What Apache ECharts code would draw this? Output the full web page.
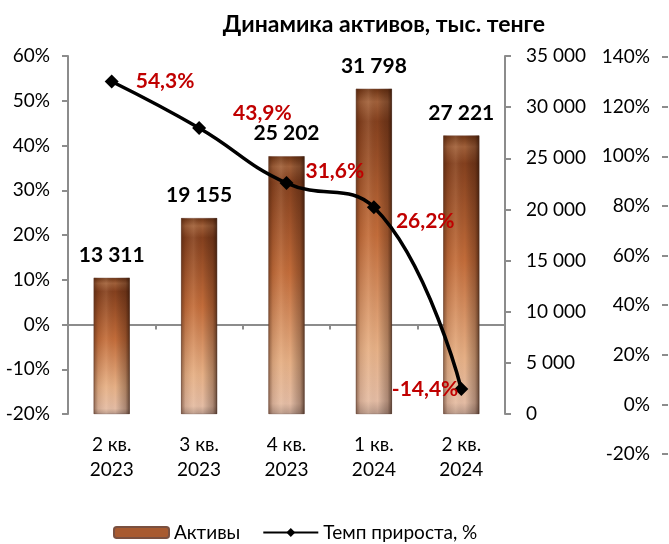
<!DOCTYPE html>
<html>
<head>
<meta charset="utf-8">
<title>Динамика активов</title>
<script src="https://cdn.jsdelivr.net/npm/echarts@6/dist/echarts.min.js"></script>
<style>
  html, body { margin: 0; padding: 0; background: #fff; }
  #main { width: 669px; height: 544px; }
</style>
</head>
<body>
<div id="main"></div>
<script>
// данные
var categories = ['2 кв.\n2023', '3 кв.\n2023', '4 кв.\n2023', '1 кв.\n2024', '2 кв.\n2024'];
var assets = [13311, 19155, 25202, 31798, 27221];
var growth = [54.3, 43.9, 31.6, 26.2, -14.4];

// подписи темпа прироста: где стоит подпись относительно точки
var growthLabelPos = [
  { position: 'right', offset: [12, 0] },
  { position: 'right', offset: [22, -15] },
  { position: 'right', offset: [7, -12] },
  { position: 'right', offset: [10, 14] },
  { position: 'left', offset: [9, 0] }
];

var FONT = 'Lato, "Noto Sans", sans-serif';
var AXIS_GRAY = '#8c8c8c';

function spaced(v) {
  return String(v).replace(/\B(?=(\d{3})+(?!\d))/g, ' ');
}
function pct(v) {
  return v.toFixed(1).replace('.', ',') + '%';
}

var barFill = new echarts.graphic.LinearGradient(0, 0, 0, 1, [
  { offset: 0, color: '#6e3414' },
  { offset: 0.04, color: '#a0603a' },
  { offset: 0.1, color: '#84401e' },
  { offset: 0.45, color: '#c26c3a' },
  { offset: 0.8, color: '#e6b086' },
  { offset: 0.96, color: '#e4bca4' },
  { offset: 1, color: '#b89888' }
]);
var barShade = new echarts.graphic.LinearGradient(0, 0, 1, 0, [
  { offset: 0, color: 'rgba(60,25,8,0.5)' },
  { offset: 0.12, color: 'rgba(60,25,8,0.12)' },
  { offset: 0.35, color: 'rgba(255,230,200,0.1)' },
  { offset: 0.6, color: 'rgba(0,0,0,0)' },
  { offset: 0.88, color: 'rgba(40,15,5,0.3)' },
  { offset: 1, color: 'rgba(30,10,0,0.65)' }
]);

var myChart = echarts.init(document.getElementById('main'));

var growthData = growth.map(function (v, i) {
  return {
    value: v,
    label: growthLabelPos[i]
  };
});

myChart.setOption({
  animation: false,
  textStyle: { fontFamily: FONT },
  title: {
    text: 'Динамика активов, тыс. тенге',
    left: 379,
    textAlign: 'center',
    top: 8,
    textStyle: { fontSize: 23, fontWeight: 'bold', color: '#000', fontFamily: FONT }
  },
  legend: {
    left: 108,
    top: 518,
    itemWidth: 55,
    itemHeight: 11,
    itemGap: 22,
    textStyle: { fontSize: 19, color: '#000', fontFamily: FONT },
    data: [
      { name: 'Активы', itemStyle: { color: '#a85a30' } },
      { name: 'Темп прироста, %' }
    ]
  },
  grid: [
    { left: 68, right: 164, top: 56, bottom: 130 },
    { left: 662, width: 6, top: 57, bottom: 90 }
  ],
  xAxis: [
    {
      type: 'category',
      data: categories,
      gridIndex: 0,
      axisLine: { show: false },
      axisTick: { show: false },
      axisLabel: {
        margin: 18,
        fontSize: 19,
        lineHeight: 25,
        color: '#000',
        fontFamily: FONT
      }
    },
    {
      type: 'category',
      data: categories,
      gridIndex: 0,
      position: 'bottom',
      axisLine: { show: true, onZero: true, onZeroAxisIndex: 0, lineStyle: { color: AXIS_GRAY, width: 2 } },
      axisTick: { show: true, length: 5, lineStyle: { color: AXIS_GRAY, width: 2 } },
      axisLabel: { show: false }
    },
    {
      type: 'category',
      data: categories,
      gridIndex: 1,
      show: false
    }
  ],
  yAxis: [
    {
      type: 'value',
      gridIndex: 0,
      position: 'left',
      min: -20,
      max: 60,
      interval: 10,
      splitLine: { show: false },
      axisLine: { show: true, lineStyle: { color: AXIS_GRAY, width: 2 } },
      axisTick: { show: true, length: 6, lineStyle: { color: AXIS_GRAY, width: 2 } },
      axisLabel: { formatter: '{value}%', fontSize: 19, color: '#000', margin: 18, fontFamily: FONT }
    },
    {
      type: 'value',
      gridIndex: 0,
      position: 'right',
      min: 0,
      max: 35000,
      interval: 5000,
      splitLine: { show: false },
      axisLine: { show: true, lineStyle: { color: AXIS_GRAY, width: 2 } },
      axisTick: { show: true, length: 6, lineStyle: { color: AXIS_GRAY, width: 2 } },
      axisLabel: { formatter: spaced, fontSize: 19, color: '#000', margin: 21, fontFamily: FONT }
    },
    {
      type: 'value',
      gridIndex: 1,
      position: 'left',
      min: -20,
      max: 140,
      interval: 20,
      splitLine: { show: false },
      axisLine: { show: false },
      axisTick: { show: true, inside: true, length: 6, lineStyle: { color: AXIS_GRAY, width: 2 } },
      axisLabel: { formatter: '{value}%', fontSize: 19, color: '#000', margin: 12, fontFamily: FONT }
    }
  ],
  series: [
    {
      name: 'Активы',
      type: 'bar',
      xAxisIndex: 0,
      yAxisIndex: 1,
      barWidth: 36,
      data: assets,
      itemStyle: { color: barFill, borderColor: '#7a5040', borderWidth: 0.5 },
      label: {
        show: true,
        position: 'top',
        distance: 12,
        formatter: function (p) { return spaced(p.value); },
        fontSize: 21,
        fontWeight: 'bold',
        color: '#000',
        fontFamily: FONT
      },
      z: 2
    },
    {
      name: 'shade',
      type: 'bar',
      xAxisIndex: 0,
      yAxisIndex: 1,
      barWidth: 36,
      barGap: '-100%',
      data: assets,
      silent: true,
      itemStyle: { color: barShade },
      z: 3
    },
    {
      name: 'Темп прироста, %',
      type: 'line',
      xAxisIndex: 0,
      yAxisIndex: 0,
      data: growthData,
      smooth: 0.45,
      symbol: 'diamond',
      symbolSize: 14,
      lineStyle: { color: '#000', width: 3.5 },
      itemStyle: { color: '#000' },
      label: {
        show: true,
        formatter: function (p) { return pct(p.value); },
        fontSize: 21,
        fontWeight: 'bold',
        color: '#c00000',
        fontFamily: FONT
      },
      z: 5
    },
    {
      name: 'scale',
      type: 'line',
      xAxisIndex: 2,
      yAxisIndex: 2,
      data: [],
      silent: true
    }
  ]
});
</script>
</body>
</html>
